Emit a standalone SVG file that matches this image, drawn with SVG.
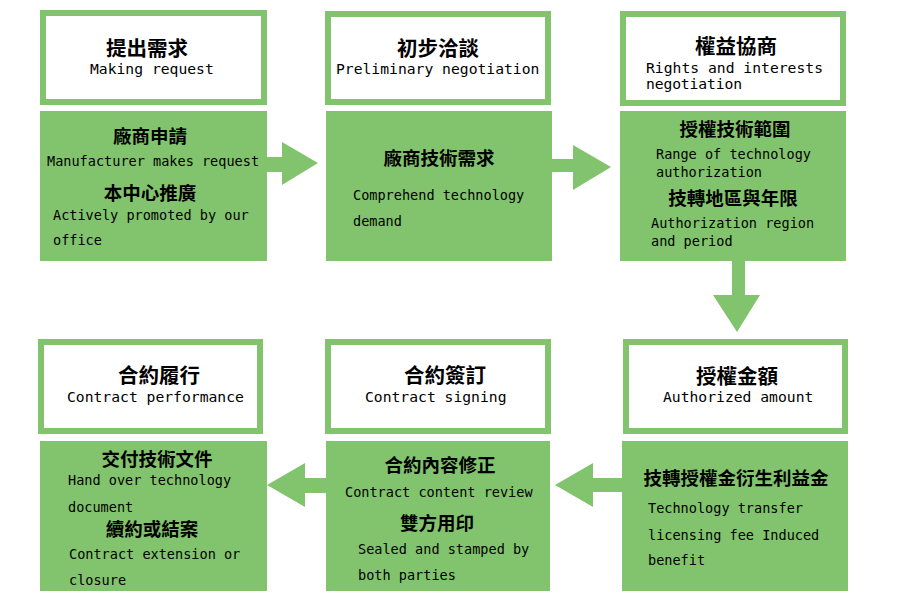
<svg xmlns="http://www.w3.org/2000/svg" width="900" height="600" viewBox="0 0 900 600">
  <style>
    .frame { fill: #ffffff; stroke: #81c46d; stroke-width: 6; }
    .panel { fill: #81c46d; }
    .arrow { fill: #81c46d; }
    .zh-h { font-family: "Noto Sans CJK TC", "Noto Sans CJK SC", sans-serif; font-weight: 700; font-size: 20.5px; fill: #000; text-anchor: middle; }
    .zh-b { font-family: "Noto Sans CJK TC", "Noto Sans CJK SC", sans-serif; font-weight: 700; font-size: 18.5px; fill: #000; text-anchor: middle; }
    .en-h { font-family: "DejaVu Sans Mono", "Liberation Mono", monospace; font-size: 14.7px; fill: #000; }
    .en-b { font-family: "DejaVu Sans Mono", "Liberation Mono", monospace; font-size: 13.55px; fill: #000; }
  </style>

  <!-- flow arrows between the steps -->
  <g id="connectors">
    <polygon class="arrow" points="266,157 282,157 282,142 318,163 282,185 282,172 266,172"/>
    <polygon class="arrow" points="551,159 573,159 573,145 611,167 573,190 573,172 551,172"/>
    <polygon class="arrow" points="732,260 745,260 745,295 760,295 737,332 713,295 732,295"/>
    <polygon class="arrow" points="623,478 593,478 593,463 555,485 593,507 593,492 623,492"/>
    <polygon class="arrow" points="327,478 305,478 305,463 267,485 305,507 305,493 327,493"/>
  </g>

  <!-- step 1 -->
  <g id="step-request">
    <rect class="frame" x="43" y="13" width="221" height="89"/>
    <text class="zh-h" x="147" y="56">提出需求</text>
    <text class="en-h" x="90" y="74">Making request</text>
    <rect class="panel" x="40" y="111" width="227" height="150"/>
    <text class="zh-b" x="150" y="143">廠商申請</text>
    <text class="en-b" x="47" y="166">Manufacturer makes request</text>
    <text class="zh-b" x="150" y="200">本中心推廣</text>
    <text class="en-b" x="53" y="220">Actively promoted by our</text>
    <text class="en-b" x="53" y="245">office</text>
  </g>

  <!-- step 2 -->
  <g id="step-preliminary">
    <rect class="frame" x="328" y="14" width="220" height="88"/>
    <text class="zh-h" x="438" y="56">初步洽談</text>
    <text class="en-h" x="336" y="74">Preliminary negotiation</text>
    <rect class="panel" x="326" y="111" width="226" height="150"/>
    <text class="zh-b" x="439" y="165">廠商技術需求</text>
    <text class="en-b" x="353" y="200">Comprehend technology</text>
    <text class="en-b" x="353" y="226">demand</text>
  </g>

  <!-- step 3 -->
  <g id="step-rights">
    <rect class="frame" x="623" y="14" width="220" height="89"/>
    <text class="zh-h" x="736" y="54">權益協商</text>
    <text class="en-h" x="646" y="73" font-size="14" textLength="177">Rights and interests</text>
    <text class="en-h" x="646" y="89" font-size="14" textLength="96">negotiation</text>
    <rect class="panel" x="620" y="111" width="226" height="150"/>
    <text class="zh-b" x="735" y="136">授權技術範圍</text>
    <text class="en-b" x="656" y="159">Range of technology</text>
    <text class="en-b" x="656" y="177">authorization</text>
    <text class="zh-b" x="733" y="205">技轉地區與年限</text>
    <text class="en-b" x="651" y="228">Authorization region</text>
    <text class="en-b" x="651" y="246">and period</text>
  </g>

  <!-- step 4 -->
  <g id="step-amount">
    <rect class="frame" x="626" y="342" width="219" height="89"/>
    <text class="zh-h" x="737" y="384">授權金額</text>
    <text class="en-h" x="663" y="402">Authorized amount</text>
    <rect class="panel" x="622" y="441" width="226" height="150"/>
    <text class="zh-b" x="736" y="485">技轉授權金衍生利益金</text>
    <text class="en-b" x="648" y="513">Technology transfer</text>
    <text class="en-b" x="648" y="540">licensing fee Induced</text>
    <text class="en-b" x="648" y="565">benefit</text>
  </g>

  <!-- step 5 -->
  <g id="step-signing">
    <rect class="frame" x="328" y="342" width="220" height="89"/>
    <text class="zh-h" x="445" y="383">合約簽訂</text>
    <text class="en-h" x="365" y="402">Contract signing</text>
    <rect class="panel" x="326" y="441" width="224" height="150"/>
    <text class="zh-b" x="440" y="472">合約內容修正</text>
    <text class="en-b" x="345" y="497">Contract content review</text>
    <text class="zh-b" x="437" y="530">雙方用印</text>
    <text class="en-b" x="358" y="554">Sealed and stamped by</text>
    <text class="en-b" x="358" y="580">both parties</text>
  </g>

  <!-- step 6 -->
  <g id="step-performance">
    <rect class="frame" x="41" y="342" width="219" height="89"/>
    <text class="zh-h" x="159" y="383">合約履行</text>
    <text class="en-h" x="67" y="402">Contract performance</text>
    <rect class="panel" x="40" y="441" width="227" height="150"/>
    <text class="zh-b" x="157" y="466">交付技術文件</text>
    <text class="en-b" x="68" y="485">Hand over technology</text>
    <text class="en-b" x="68" y="512">document</text>
    <text class="zh-b" x="152" y="536">續約或結案</text>
    <text class="en-b" x="69" y="559">Contract extension or</text>
    <text class="en-b" x="69" y="585">closure</text>
  </g>
</svg>
